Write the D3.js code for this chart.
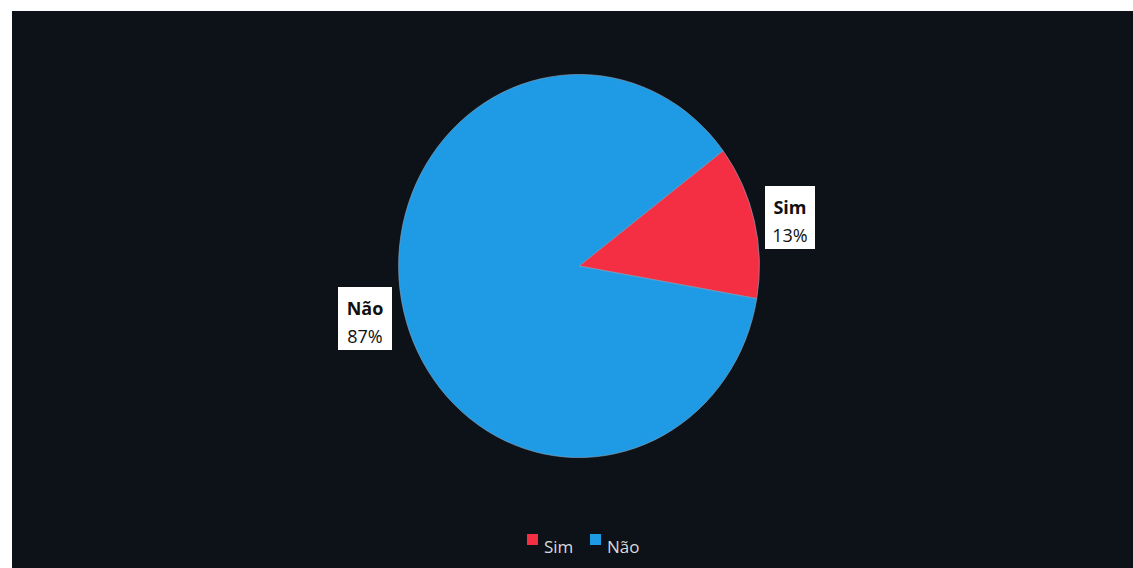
<!DOCTYPE html>
<html lang="pt">
<head>
<meta charset="UTF-8" />
<title>Sim / Não</title>
<script src="https://d3js.org/d3.v7.min.js"></script>
<style>
  * { margin: 0; padding: 0; }
  body { background: #fff; font-family: "Open Sans", "Noto Sans", sans-serif; }
  svg { display: block; }
</style>
</head>
<body>
<svg width="1133" height="568"></svg>
<script>
  // Data
  var categories = ["Sim", "Não"];
  var values = [13, 87];
  var labels = ["13%", "87%"];
  var colors = ["#f42f43", "#1e9be4"];

  var width = 1133, height = 568;
  var svg = d3.select("svg");

  // dark chart background
  svg.append("rect")
    .attr("x", 12).attr("y", 11)
    .attr("width", width - 12).attr("height", height - 11)
    .attr("fill", "#0d1118");

  var cx = 579, cy = 266, r = 186;
  var start = 53 * Math.PI / 180;

  var pie = d3.pie().sort(null)
    .startAngle(start).endAngle(start + 2 * Math.PI);
  var arc = d3.arc().innerRadius(0).outerRadius(r);

  var g = svg.append("g")
    .attr("transform", "translate(" + cx + "," + cy + ") scale(0.97,1.03)");

  var arcs = pie(values);

  g.selectAll("path")
    .data(arcs)
    .enter()
    .append("path")
    .attr("d", arc)
    .attr("fill", function(d, i) { return colors[i]; })
    .attr("stroke", "#8fa8c0")
    .attr("stroke-width", 0.6);

  // data labels (white boxes outside the slices)
  var labelPos = [[790, 218], [365, 319]];
  arcs.forEach(function(d, i) {
    var lg = svg.append("g")
      .attr("transform", "translate(" + labelPos[i][0] + "," + labelPos[i][1] + ")");
    var w = i === 0 ? 50 : 54;
    lg.append("rect")
      .attr("x", -w / 2).attr("y", -32)
      .attr("width", w).attr("height", 63)
      .attr("fill", "#ffffff");
    lg.append("text")
      .attr("text-anchor", "middle")
      .attr("y", -4)
      .attr("font-size", "18px")
      .attr("font-weight", "bold")
      .attr("fill", "#111")
      .text(categories[i]);
    lg.append("text")
      .attr("text-anchor", "middle")
      .attr("y", 24)
      .attr("font-size", "18px")
      .attr("fill", "#111")
      .text(labels[i]);
  });

  // legend
  var legendX = [527, 590];
  var legend = svg.append("g");
  categories.forEach(function(c, i) {
    legend.append("rect")
      .attr("x", legendX[i]).attr("y", 534)
      .attr("width", 11).attr("height", 11)
      .attr("fill", colors[i]);
    legend.append("text")
      .attr("x", legendX[i] + 17).attr("y", 553)
      .attr("font-size", "17px")
      .attr("fill", "#d9d9d9")
      .text(c);
  });
</script>
</body>
</html>
